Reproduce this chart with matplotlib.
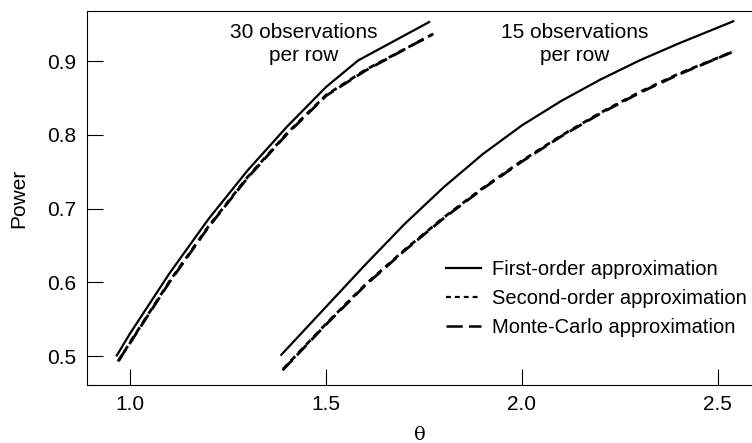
import matplotlib

matplotlib.use("Agg")
import matplotlib.pyplot as plt
from matplotlib.lines import Line2D

# power curves, 30 observations per row
theta_30_first = [0.966, 1.0, 1.1, 1.2, 1.3, 1.4, 1.5, 1.582, 1.763]
power_30_first = [0.501, 0.531, 0.612, 0.686, 0.752, 0.811, 0.865, 0.901, 0.953]
theta_30_second = [0.971, 1.0, 1.1, 1.2, 1.3, 1.4, 1.5, 1.6, 1.774]
power_30_second = [0.494, 0.519, 0.601, 0.676, 0.743, 0.802, 0.854, 0.888, 0.937]
theta_30_mc = [0.969, 1.0, 1.1, 1.2, 1.3, 1.4, 1.5, 1.6, 1.770]
power_30_mc = [0.493, 0.518, 0.600, 0.675, 0.742, 0.801, 0.853, 0.887, 0.936]

# power curves, 15 observations per row
theta_15_first = [1.386, 1.5, 1.6, 1.7, 1.8, 1.9, 2.0, 2.1, 2.2, 2.3, 2.4, 2.539]
power_15_first = [0.502, 0.567, 0.624, 0.679, 0.729, 0.774, 0.813, 0.846, 0.875, 0.901, 0.924, 0.954]
theta_15_second = [1.391, 1.5, 1.6, 1.7, 1.8, 1.9, 2.0, 2.1, 2.2, 2.3, 2.4, 2.539]
power_15_second = [0.483, 0.544, 0.597, 0.644, 0.688, 0.728, 0.765, 0.799, 0.830, 0.858, 0.883, 0.913]
theta_15_mc = [1.389, 1.5, 1.6, 1.7, 1.8, 1.9, 2.0, 2.1, 2.2, 2.3, 2.4, 2.535]
power_15_mc = [0.481, 0.543, 0.596, 0.643, 0.687, 0.727, 0.764, 0.798, 0.829, 0.857, 0.882, 0.912]

x_ticks = [1.0, 1.5, 2.0, 2.5]
y_ticks = [0.5, 0.6, 0.7, 0.8, 0.9]
labels = ["First-order approximation", "Second-order approximation", "Monte-Carlo approximation"]

plt.rcParams["font.family"] = ["Liberation Sans", "DejaVu Sans"]

figure = plt.figure(figsize=(7.52, 4.43), dpi=100)
axis = figure.add_axes([87 / 752, 58 / 443, 665 / 752, 374 / 443])

solid = dict(color="black", linewidth=1.6, linestyle="-")
short_dash = dict(color="black", linewidth=2.0, linestyle=(0, (2.2, 1.8)))
long_dash = dict(color="black", linewidth=2.0, linestyle=(0, (5, 2.5)))

for thetas, powers, style in [
    (theta_30_first, power_30_first, solid),
    (theta_30_second, power_30_second, short_dash),
    (theta_30_mc, power_30_mc, long_dash),
    (theta_15_first, power_15_first, solid),
    (theta_15_second, power_15_second, short_dash),
    (theta_15_mc, power_15_mc, long_dash),
]:
    axis.plot(thetas, powers, **style)

axis.set_xlim(0.890, 2.587)
axis.set_ylim(0.461, 0.968)
axis.set_xticks(x_ticks)
axis.set_xticklabels([f"{t:.1f}" for t in x_ticks])
axis.set_yticks(y_ticks)
axis.set_yticklabels([f"{t:.1f}" for t in y_ticks])
axis.tick_params(direction="in", length=11.5, width=0.8, labelsize=15, pad=7)
axis.tick_params(axis="y", pad=8)
axis.spines["right"].set_visible(False)
for side in ("top", "left", "bottom"):
    axis.spines[side].set_linewidth(0.8)

axis.set_xlabel("θ", family="DejaVu Serif", fontsize=14, labelpad=9)
axis.set_ylabel("Power", fontsize=15, labelpad=13)

axis.text(1.444, 0.952, "30 observations\nper row", ha="center", va="top",
          fontsize=15, linespacing=1.3)
axis.text(2.135, 0.952, "15 observations\nper row", ha="center", va="top",
          fontsize=15, linespacing=1.3)

handles = [
    Line2D([], [], color="black", linewidth=1.6, linestyle="-"),
    Line2D([], [], color="black", linewidth=1.6, linestyle=(0, (2.2, 1.8))),
    Line2D([], [], color="black", linewidth=1.8, linestyle=(0, (6.5, 2.5))),
]
axis.legend(handles, labels, frameon=False, loc="upper left",
            bbox_to_anchor=(0.54, 0.335), fontsize=14.5, handlelength=1.75,
            handletextpad=0.55, labelspacing=0.5, borderaxespad=0,
            borderpad=0)

figure.savefig("out.png", dpi=100)
